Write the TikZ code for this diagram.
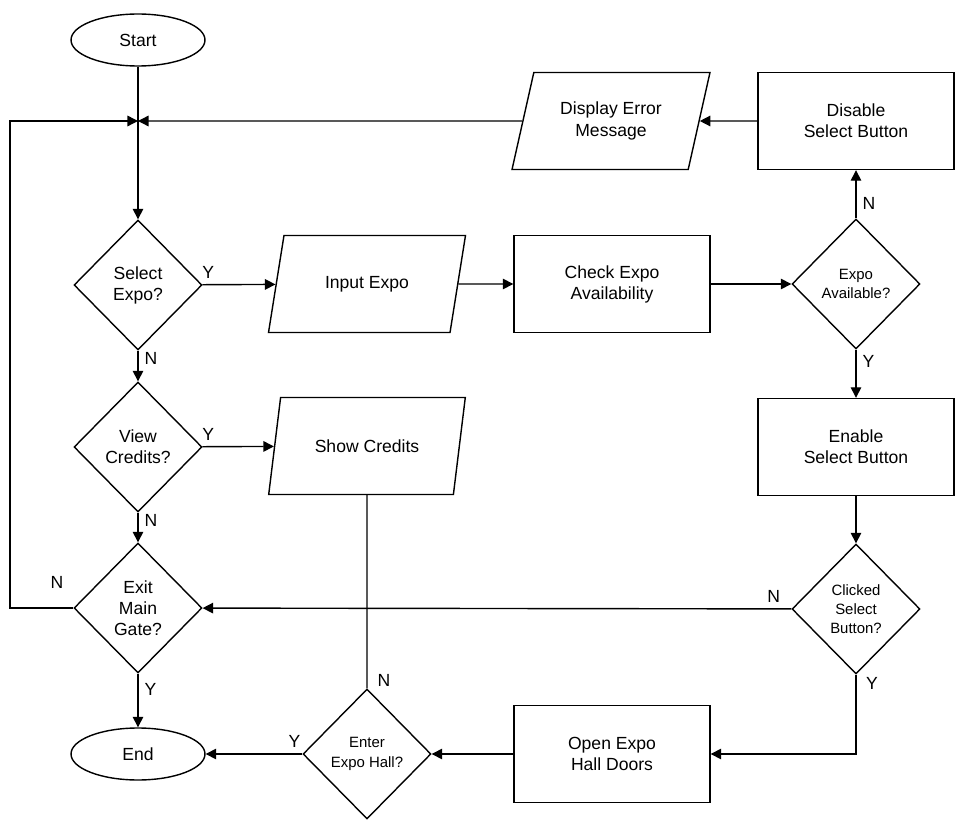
\documentclass[tikz,border=0pt]{standalone}
\usepackage{fontspec}
\setmainfont{Liberation Sans}
\usetikzlibrary{shapes.geometric,arrows.meta}

\tikzset{
  base/.style = {draw, thick, align=center, font=\fontsize{10}{12}\selectfont},
  term/.style = {base, ellipse, minimum width=2.68cm, minimum height=1.04cm},
  proc/.style = {base, rectangle, minimum width=3.92cm, minimum height=1.94cm},
  io/.style = {base, trapezium, trapezium left angle=72, trapezium right angle=108,
    trapezium stretches=true, minimum width=3.96cm, minimum height=1.94cm},
  dec/.style = {base, diamond, minimum width=2.56cm, minimum height=2.6cm, inner sep=0pt},
  flow/.style = {thick, -{Triangle[length=6pt,width=6pt]}},
  lbl/.style = {font=\fontsize{10}{12}\selectfont}
}

\begin{document}
\begin{tikzpicture}[x=0.02cm, y=-0.02cm]
\useasboundingbox (0,0) rectangle (960,824);
% nodes
\node[term] (start) at (138,40) {Start};
\node[io] (error) at (611,121) {Display Error\\Message};
\node[proc] (disable) at (856,121) {Disable\\Select Button};
\node[dec] (select) at (138,285) {Select\\Expo?};
\node[io] (input) at (367,284) {Input Expo};
\node[proc] (check) at (612,284) {Check Expo\\Availability};
\node[dec, font=\fontsize{8.5}{11}\selectfont] (avail) at (856,284) {Expo\\Available?};
\node[dec] (credits) at (138,447) {View\\Credits?};
\node[io] (show) at (367,446) {Show Credits};
\node[proc] (enable) at (856,447) {Enable\\Select Button};
\node[dec] (exit) at (138,608) {Exit\\Main\\Gate?};
\node[dec, font=\fontsize{8.5}{11}\selectfont] (clicked) at (856,609) {Clicked\\Select\\Button?};
\node[term] (end) at (138,754) {End};
\node[dec, font=\fontsize{8.5}{11}\selectfont] (enter) at (367,754) {Enter\\Expo Hall?};
\node[proc] (open) at (612,754) {Open Expo\\Hall Doors};
\coordinate (join) at (138,121);
\coordinate (loop) at (10,608);
\coordinate (turn) at (856,754);
% connectors
\draw[thick] (start) -- (join);
\draw[flow] (join) -- (select);
\draw[flow] (error) -- (join);
\draw[flow] (exit.west) -- (loop) |- (join);
\draw[flow] (disable) -- (error);
\draw[flow] (avail) -- node[lbl, right, pos=0.3] {N} (disable);
\draw[flow] (select) -- node[lbl, above, pos=0.08] {Y} (input);
\draw[flow] (input) -- (check);
\draw[flow] (check) -- (avail);
\draw[flow] (select) -- node[lbl, right, pos=0.25] {N} (credits);
\draw[flow] (credits) -- node[lbl, above, pos=0.08] {Y} (show);
\draw[flow] (credits) -- node[lbl, right, pos=0.25] {N} (exit);
\draw[flow] (avail) -- node[lbl, right, pos=0.25] {Y} (enable);
\draw[flow] (enable) -- (clicked);
\draw[flow] (clicked) -- node[lbl, above, pos=0.03] {N} (exit);
\draw[flow] (exit) -- node[lbl, right, pos=0.3] {Y} (end);
\draw[flow] (clicked.south) -- (turn) -- (open);
\node[lbl] at (872,683) {Y};
\node[lbl] at (57,582) {N};
\draw[flow] (open) -- (enter);
\draw[flow] (enter) -- node[lbl, above, pos=0.08] {Y} (end);
\draw[thick] (show.south) -- (enter.north);
\node[lbl] at (384,680) {N};
\end{tikzpicture}
\end{document}
